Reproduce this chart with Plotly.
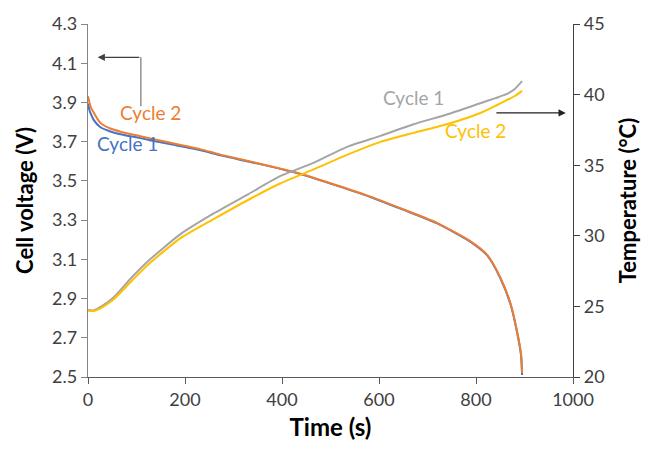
import plotly.graph_objects as go

# ---- data ----
t_volt = [0, 3, 6, 12, 25, 46, 67, 108, 163, 231, 273, 350, 427, 500, 582, 651, 720, 788, 823, 850, 871, 885, 893, 895]
volt_c1 = [3.895, 3.86, 3.84, 3.81, 3.775, 3.752, 3.738, 3.718, 3.69, 3.657, 3.63, 3.588, 3.542, 3.486, 3.418, 3.352, 3.283, 3.19, 3.12, 3.005, 2.872, 2.724, 2.608, 2.51]
volt_c2 = [3.932, 3.90, 3.875, 3.847, 3.797, 3.767, 3.751, 3.728, 3.698, 3.662, 3.634, 3.59, 3.544, 3.488, 3.42, 3.354, 3.285, 3.193, 3.123, 3.008, 2.876, 2.728, 2.612, 2.52]

t_temp = [0, 12, 30, 53, 90, 122, 190, 260, 328, 397, 465, 534, 603, 671, 740, 809, 840, 864, 880, 895]
temp_c1 = [24.74, 24.72, 25.05, 25.65, 27.05, 28.15, 30.1, 31.6, 32.9, 34.24, 35.16, 36.3, 37.08, 37.9, 38.59, 39.39, 39.75, 40.05, 40.4, 40.95]
temp_c2 = [24.7, 24.68, 24.95, 25.5, 26.8, 27.9, 29.82, 31.2, 32.5, 33.72, 34.7, 35.73, 36.65, 37.29, 37.9, 38.7, 39.2, 39.62, 39.9, 40.26]

x_ticks = [0, 200, 400, 600, 800, 1000]
v_ticks = [2.5, 2.7, 2.9, 3.1, 3.3, 3.5, 3.7, 3.9, 4.1, 4.3]
t_ticks = [20, 25, 30, 35, 40, 45]

BLUE = "#4472C4"
ORANGE = "#ED7D31"
GRAY = "#A5A5A5"
GOLD = "#FFC000"
FONT = "Lato"

fig = go.Figure()
line_kw = dict(width=2, shape="spline", smoothing=0.6)
fig.add_trace(go.Scatter(x=t_temp, y=temp_c1, mode="lines", line=dict(color=GRAY, **line_kw), yaxis="y2", showlegend=False))
fig.add_trace(go.Scatter(x=t_temp, y=temp_c2, mode="lines", line=dict(color=GOLD, **line_kw), yaxis="y2", showlegend=False))
fig.add_trace(go.Scatter(x=t_volt, y=volt_c1, mode="lines", line=dict(color=BLUE, **line_kw), showlegend=False))
fig.add_trace(go.Scatter(x=t_volt, y=volt_c2, mode="lines", line=dict(color=ORANGE, **line_kw), showlegend=False))

tickfont = dict(family=FONT, size=18, color="#404040")
titlefont = dict(family=FONT, size=24, color="black", weight="bold")
ytitlefont = dict(family=FONT, size=22, color="black", weight="bold")

fig.update_layout(
    width=655, height=449,
    margin=dict(l=88, r=82, t=15, b=70),
    plot_bgcolor="white", paper_bgcolor="white",
    xaxis=dict(range=[0, 1000], tickvals=x_ticks, ticks="outside", ticklen=6, tickcolor="#595959",
               showline=True, linecolor="#595959", linewidth=1.3, showgrid=False, zeroline=False,
               tickfont=tickfont, title=dict(text="<b>Time (s)</b>", font=titlefont, standoff=10)),
    yaxis=dict(range=[2.5, 4.3], tickvals=v_ticks, tickformat=".1f", ticks="outside", ticklen=6,
               tickcolor="#868686", showline=True, linecolor="#868686", linewidth=1.3, showgrid=False,
               zeroline=False, tickfont=tickfont,
               title=dict(text="<b>Cell voltage (V)</b>", font=ytitlefont, standoff=12)),
    yaxis2=dict(range=[20, 45], tickvals=t_ticks, overlaying="y", side="right", ticks="outside", ticklen=6,
                tickcolor="#404040", showline=True, linecolor="#404040", linewidth=1.3, showgrid=False,
                zeroline=False, tickfont=tickfont,
                title=dict(text="<b>Temperature (°C)</b>", font=ytitlefont, standoff=16)),
)

labfont = 19
fig.add_annotation(x=128, y=3.85, text="Cycle 2", showarrow=False, font=dict(family=FONT, size=labfont, color=ORANGE))
fig.add_annotation(x=81, y=3.69, text="Cycle 1", showarrow=False, font=dict(family=FONT, size=labfont, color=BLUE))
fig.add_annotation(x=671, y=39.8, yref="y2", text="Cycle 1", showarrow=False, font=dict(family=FONT, size=labfont, color=GRAY))
fig.add_annotation(x=799, y=37.45, yref="y2", text="Cycle 2", showarrow=False, font=dict(family=FONT, size=labfont, color=GOLD))

# left-pointing arrow (to voltage axis)
fig.add_shape(type="line", x0=109, x1=109, y0=3.88, y1=4.13, xref="x", yref="y", line=dict(color="#7f7f7f", width=1.3))
fig.add_annotation(x=20, y=4.13, ax=109, ay=4.13, axref="x", ayref="y", xref="x", yref="y", text="",
                   showarrow=True, arrowhead=2, arrowsize=1.2, arrowwidth=1.2, arrowcolor="#404040")
# right-pointing arrow (to temperature axis)
fig.add_annotation(x=985, y=38.7, ax=839, ay=38.7, axref="x", ayref="y2", xref="x", yref="y2", text="",
                   showarrow=True, arrowhead=2, arrowsize=1.2, arrowwidth=1.2, arrowcolor="#202020")

fig.write_html("out.html")
